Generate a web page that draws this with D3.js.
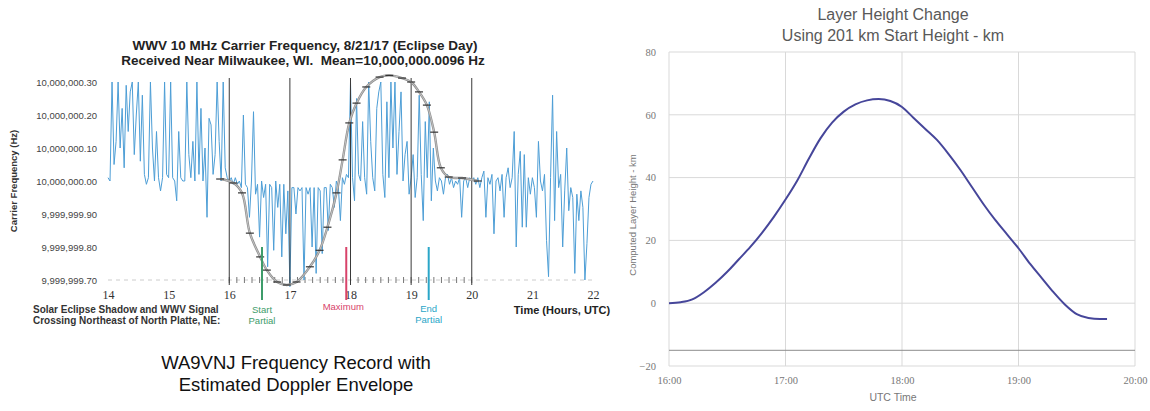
<!DOCTYPE html>
<html>
<head>
<meta charset="utf-8">
<script src="https://cdn.jsdelivr.net/npm/d3@7"></script>
<style>
  body { margin: 0; background: #fff; }
  svg { display: block; font-family: "Liberation Sans", Arial, sans-serif; }
</style>
</head>
<body>
<script>
// ---- left chart: WWV carrier, offsets from 10,000,000 Hz ----
const hourTicks = [14, 15, 16, 17, 18, 19, 20, 21, 22];
const freqTicks = [-0.3, -0.2, -0.1, 0, 0.1, 0.2, 0.3];
const hourLines = [16, 17, 18, 19, 20];
const signalStartHour = 14;
const signalStepMin = 2;
// one row per half hour, 2-minute samples
const signalHz = [
  0.01, 0.0, 0.30, 0.05, 0.12, 0.30, 0.10, 0.22, 0.04, 0.29, 0.15, 0.27, 0.30, 0.08, 0.20,
  0.30, 0.06, 0.26, 0.02, -0.01, 0.01, 0.30, 0.10, 0.0, 0.15, 0.01, -0.03, 0.01, 0.30, 0.02,
  0.01, 0.30, 0.01, 0.0, -0.06, 0.15, 0.01, 0.0, 0.0, 0.30, 0.08, 0.01, 0.12, 0.0, 0.30,
  0.02, 0.22, 0.0, 0.10, -0.11, 0.19, 0.17, 0.02, 0.08, 0.30, 0.12, 0.0, 0.30, 0.04, 0.01,
  0.0, 0.01, -0.01, 0.01, -0.01, 0.0, -0.02, 0.20, -0.01, -0.02, -0.11, 0.0, 0.21, -0.04, -0.01,
  -0.17, 0.0, -0.05, -0.01, -0.26, -0.01, -0.02, -0.21, 0.0, -0.08, -0.01, -0.23, -0.01, -0.16, -0.03,
  -0.32, -0.02, -0.02, -0.10, -0.02, -0.03, -0.02, -0.30, -0.02, -0.04, -0.02, -0.20, -0.02, -0.28, -0.02,
  -0.03, -0.22, -0.02, -0.02, -0.15, -0.01, -0.02, -0.08, 0.0, -0.02, -0.12, 0.01, -0.01, 0.02, 0.01,
  0.30, 0.01, -0.06, 0.25, 0.02, 0.0, 0.18, 0.01, -0.04, 0.30, 0.12, 0.01, -0.03, 0.22, 0.27,
  0.30, 0.02, -0.05, 0.24, 0.01, 0.30, 0.10, 0.30, 0.02, 0.15, 0.27, 0.0, 0.08, 0.12, -0.04,
  0.01, 0.08, -0.05, 0.01, 0.26, 0.02, -0.12, 0.18, 0.01, 0.24, -0.06, 0.10, 0.0, -0.03, 0.01,
  0.0, -0.04, 0.01, 0.02, -0.01, 0.01, -0.02, 0.0, -0.01, 0.01, -0.11, 0.0, 0.01, -0.02, 0.01,
  0.0, 0.01, -0.01, 0.01, -0.02, 0.01, 0.03, -0.11, 0.01, -0.01, 0.02, -0.16, 0.0, 0.01, -0.03,
  0.02, -0.11, 0.01, 0.04, -0.02, 0.01, 0.15, -0.20, 0.02, 0.09, -0.14, 0.08, -0.14, 0.01, -0.04,
  0.01, -0.02, -0.11, 0.12, 0.0, -0.03, 0.02, -0.18, -0.29, 0.01, 0.26, -0.12, 0.15, -0.02, 0.02,
  -0.20, -0.03, 0.10, -0.09, -0.02, -0.05, -0.28, -0.04, -0.12, -0.03, -0.08, -0.30, -0.19, -0.05, -0.01,
  0.0
];
const envelopeHours = [15.85, 16.07, 16.21, 16.34, 16.51, 16.62, 16.79, 16.95, 17.11, 17.33, 17.49,
  17.62, 17.77, 17.87, 17.98, 18.10, 18.26, 18.48, 18.64, 18.85, 19.0, 19.13, 19.26, 19.38,
  19.49, 19.62, 19.84, 20.1];
const envelopeHz = [0.006, -0.006, -0.036, -0.158, -0.23, -0.27, -0.306, -0.315, -0.306, -0.26, -0.21,
  -0.14, -0.036, 0.064, 0.176, 0.236, 0.285, 0.315, 0.32, 0.312, 0.30, 0.27, 0.23, 0.148,
  0.04, 0.012, 0.009, 0.0];
const eventHours = [16.54, 17.93, 19.29];
const eventLabels = [["Start", "Partial"], ["Maximum"], ["End", "Partial"]];

// ---- right chart: layer height ----
const layerHours = [16.0, 16.1, 16.2, 16.3, 16.4, 16.5, 16.6, 16.7, 16.8, 16.9, 17.0, 17.1, 17.2,
  17.3, 17.4, 17.5, 17.6, 17.7, 17.8, 17.9, 18.0, 18.1, 18.2, 18.3, 18.4, 18.5, 18.6, 18.7,
  18.8, 18.9, 19.0, 19.1, 19.2, 19.3, 19.4, 19.5, 19.6, 19.7, 19.76];
const layerHeightKm = [0, 0.3, 1.2, 3.5, 6.5, 10, 14, 18, 22.5, 27.5, 33, 39, 46,
  52.5, 57.5, 61, 63.3, 64.6, 65, 64.4, 62.5, 59, 55.5, 52, 47.5, 42.5, 37, 31.5,
  26.5, 22, 17.5, 12.5, 8, 3.5, -0.5, -3.5, -4.7, -5, -5];
const heightTicks = [-20, 0, 20, 40, 60, 80];
const utcTicks = [16, 17, 18, 19, 20];

const svg = d3.select("body").append("svg")
  .attr("width", 1150)
  .attr("height", 411);

// ================= left chart =================
const xL = d3.scaleLinear().domain([14, 22]).range([108, 593]);
const yL = d3.scaleLinear().domain([-0.3, 0.3]).range([280, 82]);
const left = svg.append("g");

left.append("text")
  .attr("x", 305).attr("y", 50)
  .attr("text-anchor", "middle")
  .attr("font-size", 13.5).attr("font-weight", "bold").attr("fill", "#222")
  .text("WWV 10 MHz Carrier Frequency, 8/21/17 (Eclipse Day)");
left.append("text")
  .attr("x", 303).attr("y", 65)
  .attr("text-anchor", "middle")
  .attr("font-size", 13.5).attr("font-weight", "bold").attr("fill", "#222")
  .style("white-space", "pre")
  .text("Received Near Milwaukee, WI.  Mean=10,000,000.0096 Hz");

const fmtHz = d3.format(",.2f");
left.append("g")
  .attr("transform", "translate(100,0)")
  .call(d3.axisLeft(yL).tickValues(freqTicks).tickSize(0).tickPadding(3)
    .tickFormat(v => fmtHz(10000000 + v)))
  .call(g => g.select(".domain").remove())
  .call(g => g.selectAll("text").attr("font-size", 9.5).attr("fill", "#444")
    .attr("font-family", "Liberation Sans"));

left.append("text")
  .attr("transform", "translate(17,181) rotate(-90)")
  .attr("text-anchor", "middle")
  .attr("font-size", 9.5).attr("font-weight", "bold").attr("fill", "#333")
  .text("Carrier Frequency (Hz)");

// axis line with small ticks
left.append("line")
  .attr("x1", xL(14)).attr("x2", xL(22))
  .attr("y1", yL(-0.3)).attr("y2", yL(-0.3))
  .attr("stroke", "#ccc").attr("stroke-dasharray", "4,4");
left.append("g")
  .selectAll("line")
  .data(d3.range(16, 20.01, 0.125))
  .join("line")
  .attr("x1", d => xL(d)).attr("x2", d => xL(d))
  .attr("y1", yL(-0.3) - 3).attr("y2", yL(-0.3) + 3)
  .attr("stroke", "#777").attr("stroke-width", 1);

left.append("g")
  .attr("transform", `translate(0,${yL(-0.3)})`)
  .call(d3.axisBottom(xL).tickValues(hourTicks).tickSize(0).tickPadding(10))
  .call(g => g.select(".domain").remove())
  .call(g => g.selectAll("text").attr("font-size", 12).attr("fill", "#333")
    .attr("font-family", "Liberation Serif"));

// blue signal trace
const signalPts = signalHz.map((v, i) => [signalStartHour + i * signalStepMin / 60, v]);
left.append("path")
  .datum(signalPts)
  .attr("fill", "none")
  .attr("stroke", "#4d9ed6")
  .attr("stroke-width", 1)
  .attr("stroke-linejoin", "round")
  .attr("d", d3.line().x(d => xL(d[0])).y(d => yL(d[1])));

// hour lines
left.append("g")
  .selectAll("line")
  .data(hourLines)
  .join("line")
  .attr("x1", d => xL(d)).attr("x2", d => xL(d))
  .attr("y1", 78).attr("y2", 285)
  .attr("stroke", "#3a3a3a").attr("stroke-width", 1);

// doppler envelope
const envPts = envelopeHours.map((h, i) => [h, envelopeHz[i]]);
const envLine = d3.line().curve(d3.curveCatmullRom).x(d => xL(d[0])).y(d => yL(d[1]));
left.append("path")
  .datum(envPts)
  .attr("fill", "none")
  .attr("stroke", "#8f8f8f")
  .attr("stroke-width", 2.4)
  .attr("d", envLine);
left.append("path")
  .datum(envPts)
  .attr("fill", "none")
  .attr("stroke", "#d0d0d0")
  .attr("stroke-width", 0.8)
  .attr("d", envLine);
left.append("g")
  .selectAll("line")
  .data(envPts)
  .join("line")
  .attr("x1", d => xL(d[0]) - 4).attr("x2", d => xL(d[0]) + 4)
  .attr("y1", d => yL(d[1])).attr("y2", d => yL(d[1]))
  .attr("stroke", "#333").attr("stroke-width", 1.2);

// eclipse events
const eventColors = ["#3e9c6a", "#d8436a", "#2aa6c8"];
const eventLabelY = [[310, 321], [307], [309, 320]];
eventHours.forEach((h, i) => {
  left.append("line")
    .attr("x1", xL(h)).attr("x2", xL(h))
    .attr("y1", yL(-0.2)).attr("y2", 300)
    .attr("stroke", eventColors[i]).attr("stroke-width", 2);
  eventLabels[i].forEach((t, j) => {
    left.append("text")
      .attr("x", xL(h) + (i === 1 ? -3 : 0)).attr("y", eventLabelY[i][j] + 3)
      .attr("text-anchor", "middle")
      .attr("font-size", 9.5).attr("fill", eventColors[i])
      .text(t);
  });
});

left.append("text")
  .attr("x", 33).attr("y", 313)
  .attr("font-size", 10).attr("font-weight", "bold").attr("fill", "#333")
  .text("Solar Eclipse Shadow and WWV Signal");
left.append("text")
  .attr("x", 33).attr("y", 324)
  .attr("font-size", 10).attr("font-weight", "bold").attr("fill", "#333")
  .text("Crossing Northeast of North Platte, NE:");
left.append("text")
  .attr("x", 562).attr("y", 314)
  .attr("text-anchor", "middle")
  .attr("font-size", 11).attr("font-weight", "bold").attr("fill", "#222")
  .text("Time (Hours, UTC)");

left.append("text")
  .attr("x", 296).attr("y", 369)
  .attr("text-anchor", "middle")
  .attr("font-size", 18.5).attr("fill", "#111")
  .text("WA9VNJ Frequency Record with");
left.append("text")
  .attr("x", 296).attr("y", 391)
  .attr("text-anchor", "middle")
  .attr("font-size", 18.5).attr("fill", "#111")
  .text("Estimated Doppler Envelope");

// ================= right chart =================
const xR = d3.scaleLinear().domain([16, 20]).range([669, 1135]);
const yR = d3.scaleLinear().domain([-20, 80]).range([366, 52]);
const right = svg.append("g");

right.append("text")
  .attr("x", 893).attr("y", 20)
  .attr("text-anchor", "middle")
  .attr("font-size", 16).attr("fill", "#595959")
  .text("Layer Height Change");
right.append("text")
  .attr("x", 893).attr("y", 41)
  .attr("text-anchor", "middle")
  .attr("font-size", 16).attr("fill", "#595959")
  .text("Using 201 km Start Height - km");

right.append("g")
  .selectAll("line")
  .data(heightTicks)
  .join("line")
  .attr("x1", xR(16)).attr("x2", xR(20))
  .attr("y1", d => yR(d)).attr("y2", d => yR(d))
  .attr("stroke", "#d9d9d9");
right.append("g")
  .selectAll("line")
  .data(utcTicks)
  .join("line")
  .attr("x1", d => xR(d)).attr("x2", d => xR(d))
  .attr("y1", yR(80)).attr("y2", yR(-20))
  .attr("stroke", "#d9d9d9");
right.append("line")
  .attr("x1", xR(16)).attr("x2", xR(20))
  .attr("y1", yR(-15)).attr("y2", yR(-15))
  .attr("stroke", "#8c8c8c");

right.append("g")
  .attr("transform", `translate(${xR(16)},0)`)
  .call(d3.axisLeft(yR).tickValues(heightTicks).tickSize(0).tickPadding(13))
  .call(g => g.select(".domain").remove())
  .call(g => g.selectAll("text").attr("font-size", 10.5).attr("fill", "#777")
    .attr("font-family", "Liberation Serif"));
right.append("g")
  .attr("transform", `translate(0,${yR(-20)})`)
  .call(d3.axisBottom(xR).tickValues(utcTicks).tickSize(0).tickPadding(11)
    .tickFormat(h => h + ":00"))
  .call(g => g.select(".domain").remove())
  .call(g => g.selectAll("text").attr("font-size", 10.5).attr("fill", "#777")
    .attr("font-family", "Liberation Serif"));

right.append("text")
  .attr("transform", "translate(636,215) rotate(-90)")
  .attr("text-anchor", "middle")
  .attr("font-size", 9.5).attr("fill", "#777")
  .text("Computed Layer Height - km");
right.append("text")
  .attr("x", 893).attr("y", 401)
  .attr("text-anchor", "middle")
  .attr("font-size", 10.5).attr("fill", "#777")
  .text("UTC Time");

right.append("path")
  .datum(layerHours.map((h, i) => [h, layerHeightKm[i]]))
  .attr("fill", "none")
  .attr("stroke", "#46469a")
  .attr("stroke-width", 2)
  .attr("d", d3.line().curve(d3.curveMonotoneX).x(d => xR(d[0])).y(d => yR(d[1])));
</script>
</body>
</html>
